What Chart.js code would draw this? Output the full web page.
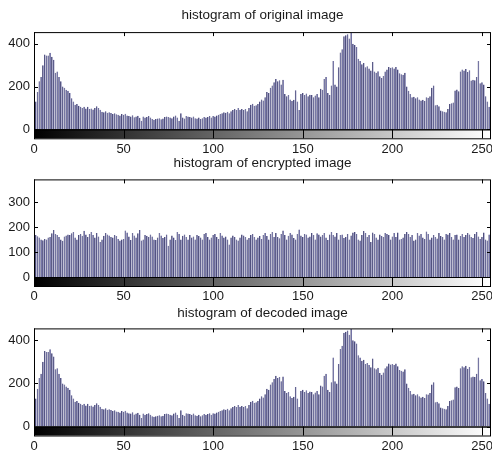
<!DOCTYPE html>
<html>
<head>
<meta charset="utf-8">
<script src="https://cdn.jsdelivr.net/npm/chart.js@4"></script>
<style>
  html, body { margin: 0; padding: 0; background: #fff; }
  #wrap { position: relative; width: 492px; height: 453px; overflow: hidden; }
  canvas { position: absolute; left: 0; }
</style>
</head>
<body>
<div id="wrap">
  <canvas id="c1" width="492" height="158" style="top:0px"></canvas>
  <canvas id="c2" width="492" height="158" style="top:150px"></canvas>
  <canvas id="c3" width="492" height="153" style="top:300px"></canvas>
</div>
<script>
// --- Data ---
const titles = ['histogram of original image', 'histogram of encrypted image', 'histogram of decoded image'];
const xTicks = [0, 50, 100, 150, 200, 250];
const yTicksOriginal = [0, 200, 400];
const yTicksEncrypted = [0, 100, 200, 300];

// counts per gray level 0..255
const originalCounts = [
    155,130,175,225,245,300,350,345,345,358,340,325,265,270,245,225,
    200,195,185,180,170,145,130,115,118,110,105,100,105,97,105,95,
    97,93,100,108,100,92,82,80,85,78,80,76,72,75,70,68,
    65,72,68,73,65,62,60,66,56,60,64,54,40,60,55,58,
    62,55,48,45,48,50,52,47,50,58,60,58,55,52,60,65,
    55,40,75,55,50,62,60,58,55,60,52,50,55,48,52,58,
    55,58,62,55,62,60,65,68,72,75,80,78,82,75,85,90,
    95,90,100,92,95,90,95,85,100,115,120,110,112,118,130,140,
    135,150,175,170,195,205,220,235,225,230,210,232,165,155,160,140,
    132,138,183,130,90,165,170,160,168,155,162,160,150,158,165,150,
    190,185,235,245,170,160,205,320,210,200,290,360,375,435,440,445,
    425,452,400,395,385,330,320,305,310,290,295,285,275,315,270,265,
    272,248,240,250,270,280,292,288,290,285,292,280,262,258,255,265,
    200,180,165,150,152,145,150,140,135,138,132,150,148,155,195,205,
    112,115,108,88,85,82,80,95,118,122,125,182,186,178,270,280,
    275,282,268,276,228,232,230,245,320,215,220,210,155,130,105,65
];
const encryptedCounts = [
    155,168,163,158,150,147,152,150,158,160,175,188,172,168,160,150,
    145,162,166,170,168,175,180,158,150,168,172,165,185,170,160,172,
    180,168,158,176,162,140,150,165,176,170,166,160,158,168,164,152,
    146,150,152,186,178,162,148,176,166,158,175,188,146,150,168,165,
    160,170,162,150,148,158,176,166,156,160,170,125,150,166,158,148,
    180,172,150,165,170,160,150,168,158,162,150,168,164,158,150,172,
    176,160,150,158,168,172,160,152,176,166,158,162,150,130,158,166,
    160,150,146,158,170,166,160,150,156,168,172,160,150,158,164,152,
    168,176,164,150,172,180,160,176,160,155,172,186,168,150,165,176,
    170,156,150,172,190,166,160,172,170,158,162,176,168,150,175,170,
    162,168,176,158,148,170,180,168,162,176,150,168,170,156,160,172,
    150,166,178,180,172,150,146,168,184,176,160,168,140,178,172,158,
    150,170,164,160,176,172,168,150,162,176,160,178,150,152,158,172,
    180,172,160,168,146,150,176,166,172,158,152,182,172,150,158,168,
    160,154,176,164,160,150,172,170,176,160,150,168,170,150,164,172,
    160,168,176,170,160,156,172,180,162,152,160,178,150,146,170,162
];
const decodedCounts = originalCounts.slice();

// --- MATLAB-like axes: box, inward ticks, gray colorbar under the histogram ---
const matlabAxes = {
    id: 'matlabAxes',
    afterDatasetsDraw(chart, args, opts) {
        const ctx = chart.ctx;
        const a = chart.chartArea;
        const xs = chart.scales.x, ys = chart.scales.y;
        const cbH = 9;
        ctx.save();
        // colorbar
        const x0 = xs.getPixelForValue(0), x1 = xs.getPixelForValue(255);
        const g = ctx.createLinearGradient(x0, 0, x1, 0);
        g.addColorStop(0, '#000');
        g.addColorStop(1, '#fff');
        ctx.fillStyle = g;
        ctx.fillRect(a.left, a.bottom, a.right - a.left, cbH);
        ctx.strokeStyle = '#000';
        ctx.lineWidth = 1;
        ctx.strokeRect(a.left + 0.5, a.bottom + 0.5, a.right - a.left - 1, cbH);
        // axes box
        ctx.strokeRect(a.left + 0.5, a.top + 0.5, a.right - a.left - 1, a.bottom - a.top);
        // ticks
        ctx.beginPath();
        xTicks.forEach(v => {
            const px = Math.round(xs.getPixelForValue(v)) + 0.5;
            ctx.moveTo(px, a.top); ctx.lineTo(px, a.top + 4);
            ctx.moveTo(px, a.bottom); ctx.lineTo(px, a.bottom + cbH);
        });
        opts.yTicks.forEach(v => {
            const py = Math.round(ys.getPixelForValue(v)) + 0.5;
            ctx.moveTo(a.left, py); ctx.lineTo(a.left + 4, py);
            ctx.moveTo(a.right, py); ctx.lineTo(a.right - 4, py);
        });
        ctx.stroke();
        ctx.restore();
    }
};

const font = { family: 'Liberation Sans, Arial, sans-serif', size: 13, weight: 'normal' };
const titleFont = { family: 'Liberation Sans, Arial, sans-serif', size: 13.5, weight: 'normal' };

function makePanel(id, title, counts, yMax, yTicks, layout) {
    const pts = counts.map((v, i) => ({ x: i, y: v }));
    return new Chart(document.getElementById(id), {
        type: 'bar',
        data: {
            datasets: [{
                data: pts,
                backgroundColor: '#5a5a98',
                borderColor: '#1c1c52',
                borderWidth: { left: 1, right: 0, top: 0, bottom: 0 },
                borderSkipped: false,
                barPercentage: 0.9,
                categoryPercentage: 1
            }]
        },
        options: {
            responsive: false,
            animation: false,
            layout: { padding: { left: 0, right: 1, top: 0, bottom: 0 } },
            plugins: {
                legend: { display: false },
                tooltip: { enabled: false },
                title: {
                    display: true,
                    text: title,
                    color: '#1a1a1a',
                    font: titleFont,
                    fullSize: false,
                    padding: { top: layout.titleTop, bottom: layout.titleBottom }
                },
                matlabAxes: { yTicks: yTicks }
            },
            scales: {
                x: {
                    type: 'linear',
                    min: 0,
                    max: 255,
                    offset: false,
                    grid: { display: false, drawTicks: false, offset: false },
                    border: { display: false },
                    afterBuildTicks(s) { s.ticks = xTicks.map(v => ({ value: v })); },
                    ticks: {
                        autoSkip: false,
                        maxRotation: 0,
                        padding: 12,
                        color: '#1a1a1a',
                        font: font
                    },
                    afterFit(s) {
                        s.height = layout.xHeight;
                        s.paddingLeft = 0;
                        s.paddingRight = 0;
                    }
                },
                y: {
                    min: 0,
                    max: yMax,
                    grid: { display: false, drawTicks: false },
                    border: { display: false },
                    afterBuildTicks(s) { s.ticks = yTicks.map(v => ({ value: v })); },
                    ticks: {
                        padding: 4,
                        color: '#1a1a1a',
                        font: font
                    },
                    afterFit(s) {
                        s.width = 34;
                        s.paddingTop = 0;
                        s.paddingBottom = 0;
                    }
                }
            }
        },
        plugins: [matlabAxes]
    });
}

makePanel('c1', titles[0], originalCounts, 455, yTicksOriginal,
    { titleTop: 7.4, titleBottom: 8.5, xHeight: 28.7 });
makePanel('c2', titles[1], encryptedCounts, 390, yTicksEncrypted,
    { titleTop: 5.0, titleBottom: 8.2, xHeight: 31 });
makePanel('c3', titles[2], decodedCounts, 455, yTicksOriginal,
    { titleTop: 5.0, titleBottom: 7.2, xHeight: 26.5 });
</script>
</body>
</html>
